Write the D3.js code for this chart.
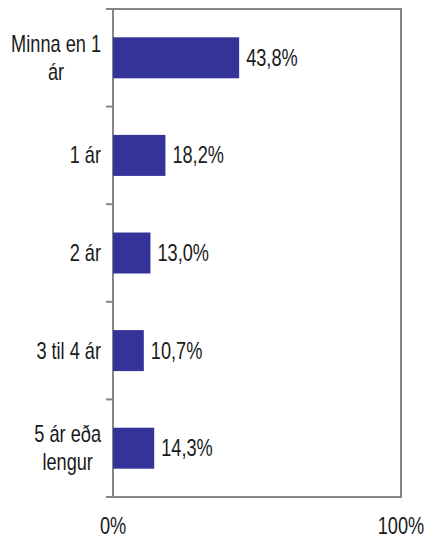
<!DOCTYPE html>
<meta charset="utf-8">
<script src="https://d3js.org/d3.v7.min.js"></script>
<style>
  body { margin: 0; background: #fff; }
  text { font-family: "Liberation Sans", Arial, sans-serif; font-size: 23px; fill: #1a1a1a; }
</style>
<div id="chart"></div>
<script>
// categories (lines split as in the original labels)
var categories = ["Minna en 1|ár", "1 ár", "2 ár", "3 til 4 ár", "5 ár eða|lengur"];
var values = [43.8, 18.2, 13.0, 10.7, 14.3];
var valueLabels = ["43,8%", "18,2%", "13,0%", "10,7%", "14,3%"];
var xTicks = [0, 100];

var W = 426, H = 537;
var margin = {left: 113, right: 401, top: 9, bottom: 497};
var narrow = 0.79; // squeeze text horizontally, the original used a narrow face

var svg = d3.select("#chart").append("svg")
  .attr("width", W).attr("height", H);

var x = d3.scaleLinear().domain([0, 100]).range([margin.left, margin.right]);
var y = d3.scaleBand().domain(categories).range([margin.top, margin.bottom])
  .paddingInner(0.58).paddingOuter(0.29);

var grey = "#868686";

function place(sel, px, py) {
  return sel.attr("transform", "translate(" + px + "," + py + ") scale(" + narrow + ",1)");
}

// frame
svg.append("rect")
  .attr("x", margin.left).attr("y", margin.top)
  .attr("width", margin.right - margin.left).attr("height", margin.bottom - margin.top)
  .attr("fill", "none").attr("stroke", grey).attr("stroke-width", 2);

// left tick marks at category boundaries
var n = categories.length;
var bounds = d3.range(n + 1).map(function(i) { return margin.top + i * (margin.bottom - margin.top) / n; });
svg.append("g").selectAll("line").data(bounds).enter().append("line")
  .attr("x1", margin.left - 7).attr("x2", margin.left)
  .attr("y1", function(d) { return d; }).attr("y2", function(d) { return d; })
  .attr("stroke", grey).attr("stroke-width", 2);

// bars
svg.append("g").selectAll("rect").data(values).enter().append("rect")
  .attr("x", x(0))
  .attr("y", function(d, i) { return y(categories[i]); })
  .attr("width", function(d) { return x(d) - x(0); })
  .attr("height", y.bandwidth())
  .attr("fill", "#333399");

// value labels
svg.append("g").selectAll("text").data(values).enter().append("text")
  .attr("dy", "0.35em")
  .each(function(d, i) {
    place(d3.select(this), x(d) + 7, y(categories[i]) + y.bandwidth() / 2);
  })
  .text(function(d, i) { return valueLabels[i]; });

// category labels: block right aligned, lines centred to each other
var lineH = 28, labelRight = 101;
categories.forEach(function(c) {
  var lines = c.split("|");
  var cy = y(c) + y.bandwidth() / 2;
  var g = svg.append("g");
  var texts = lines.map(function(l) {
    return g.append("text")
      .attr("dy", "0.35em")
      .attr("text-anchor", "middle")
      .text(l);
  });
  var maxW = d3.max(texts, function(t) { return t.node().getComputedTextLength(); }) * narrow;
  texts.forEach(function(t, j) {
    place(t, labelRight - maxW / 2, cy + (j - (lines.length - 1) / 2) * lineH);
  });
});

// x labels
svg.append("g").selectAll("text").data(xTicks).enter().append("text")
  .attr("text-anchor", "middle")
  .each(function(d) { place(d3.select(this), x(d), 534); })
  .text(function(d) { return d + "%"; });
</script>
